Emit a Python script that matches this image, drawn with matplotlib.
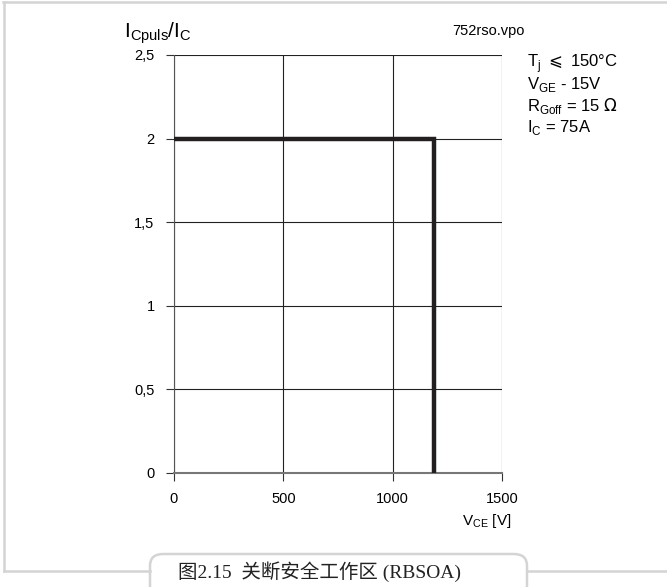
import matplotlib.pyplot as plt
from matplotlib.lines import Line2D
from matplotlib.patches import FancyBboxPatch

plt.rcParams['font.family'] = ['Liberation Sans', 'DejaVu Sans']

# RBSOA boundary: I_Cpuls/I_C vs V_CE
vce = [0, 1190, 1190]
ic_ratio = [2.0, 2.0, 0.0]

xticks = [0, 500, 1000, 1500]
yticks = [0, 0.5, 1, 1.5, 2, 2.5]
ytick_labels = ['0', '0,5', '1', '1,5', '2', '2,5']
cond_lines = [r'T$_\mathregular{j}$ $\leqslant$ 150°C',
              r'V$_\mathregular{GE}$ - 15V',
              r'R$_\mathregular{Goff}$ = 15 $\Omega$',
              r'I$_\mathregular{C}$ = 75A']

W, H = 667, 587
fig = plt.figure(figsize=(W / 100, H / 100), dpi=100)
ax = fig.add_axes([174 / W, 1 - 473 / H, 328 / W, 418 / H])

ax.plot(vce, ic_ratio, color='#231f20', lw=3.2, solid_joinstyle='miter', zorder=3)
ax.set_xlim(0, 1500)
ax.set_ylim(0, 2.5)
ax.set_xticks(xticks)
ax.set_yticks(yticks)
ax.set_yticklabels(ytick_labels)
ax.grid(True, color='#222222', lw=0.8)
for s in ax.spines.values():
    s.set_visible(False)
ax.spines['left'].set_visible(True)
ax.spines['bottom'].set_visible(True)
ax.spines['left'].set_color('#555555')
ax.spines['bottom'].set_color('#777777')
ax.spines['bottom'].set_linewidth(1.5)
ax.tick_params(direction='out', length=6, width=0.8, labelsize=10.5, pad=8, color='#333333')

fig.text(124 / W, 1 - 33 / H, r'I$_\mathregular{Cpuls}$/I$_\mathregular{C}$',
         fontsize=15, va='center', ha='left')
fig.text(452 / W, 1 - 31 / H, '752rso.vpo', fontsize=10.5, va='center', ha='left')
for i, t in enumerate(cond_lines):
    fig.text(527 / W, 1 - (64 + i * 21) / H, t, fontsize=12, va='center', ha='left')
fig.text(462 / W, 1 - 521 / H, r'V$_\mathregular{CE}$ [V]', fontsize=11, va='center', ha='left')

# surrounding frame and caption box
fc = '#d4d4d4'
fig.add_artist(Line2D([3 / W, 1], [1 - 2 / H, 1 - 2 / H], color=fc, lw=1.8))
fig.add_artist(Line2D([4 / W, 4 / W], [1 - 2 / H, 1 - 571 / H], color=fc, lw=1.8))
fig.add_artist(Line2D([4 / W, 150 / W], [1 - 571 / H, 1 - 571 / H], color=fc, lw=1.8))
fig.add_artist(Line2D([527 / W, 1], [1 - 571 / H, 1 - 571 / H], color=fc, lw=1.8))
fig.add_artist(FancyBboxPatch((150 / W, 1 - 600 / H), 377 / W, 46 / H,
                              boxstyle='round,pad=0,rounding_size=0.02',
                              transform=fig.transFigure, fc='white', ec=fc, lw=1.8))
fig.text(320 / W, 1 - 572 / H, '图2.15  关断安全工作区 (RBSOA)', fontsize=14,
         family=['Liberation Serif', 'Noto Sans CJK SC'], va='center', ha='center',
         color='#222222')

fig.savefig('out.png', dpi=100)
